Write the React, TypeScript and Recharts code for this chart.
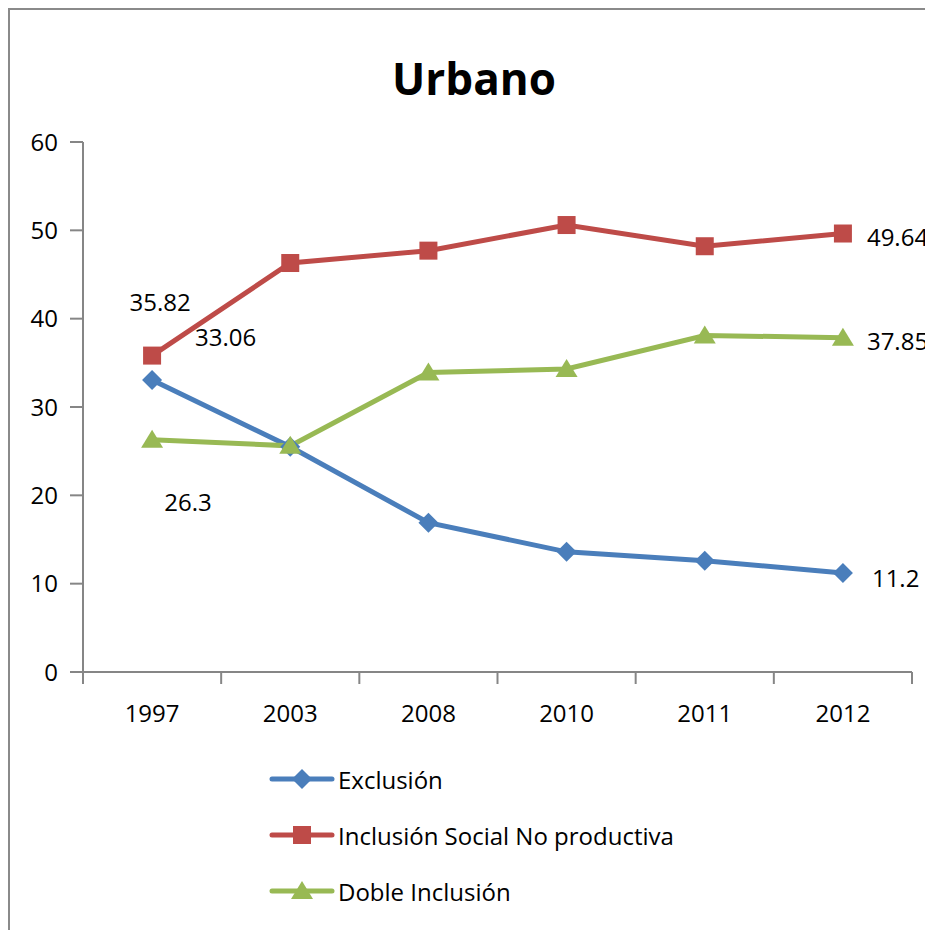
import React from 'react';
import { LineChart, Line, XAxis, YAxis, Legend, LabelList } from 'recharts';

const years = ['1997', '2003', '2008', '2010', '2011', '2012'];
const exclusion = [33.06, 25.5, 16.9, 13.6, 12.6, 11.2];
const inclusionSocial = [35.82, 46.3, 47.7, 50.6, 48.2, 49.64];
const dobleInclusion = [26.3, 25.6, 33.9, 34.3, 38.1, 37.85];
const yTicks = [0, 10, 20, 30, 40, 50, 60];

const data = years.map((year, i) => ({
  year,
  x: i + 0.5,
  exclusion: exclusion[i],
  inclusion: inclusionSocial[i],
  doble: dobleInclusion[i],
}));

const font = '"Open Sans", sans-serif';
const axisColor = '#868686';

const Marker = ({ cx, cy, shape, color }: any) => {
  if (shape === 'diamond') {
    return <path d={`M${cx},${cy - 10}L${cx + 10},${cy}L${cx},${cy + 10}L${cx - 10},${cy}Z`} fill={color} />;
  }
  if (shape === 'square') {
    return <rect x={cx - 9} y={cy - 9} width={18} height={18} fill={color} />;
  }
  return <path d={`M${cx},${cy - 10}L${cx + 11},${cy + 8}L${cx - 11},${cy + 8}Z`} fill={color} />;
};

// label offsets for first / last points, per series
const labelPos: Record<string, { first: [number, number, string]; last: [number, number, string] }> = {
  exclusion: { first: [43, -43, 'start'], last: [29, 4, 'start'] },
  inclusion: { first: [8, -54, 'middle'], last: [24, 3, 'start'] },
  doble: { first: [36, 62, 'middle'], last: [24, 3, 'start'] },
};

const makeLabel = (key: string) => (props: any) => {
  const { x, y, index, value } = props;
  if (index !== 0 && index !== years.length - 1) return null;
  const [dx, dy, anchor] = index === 0 ? labelPos[key].first : labelPos[key].last;
  return (
    <text
      key={`${key}-${index}`}
      x={x + dx}
      y={y + dy}
      textAnchor={anchor}
      dominantBaseline="central"
      fontSize={24}
      fontFamily={font}
      fill="#000"
    >
      {value}
    </text>
  );
};

const series = [
  { key: 'exclusion', name: 'Exclusión', color: '#4A7EBB', shape: 'diamond' },
  { key: 'inclusion', name: 'Inclusión Social No productiva', color: '#BE4B48', shape: 'square' },
  { key: 'doble', name: 'Doble Inclusión', color: '#98B954', shape: 'triangle' },
];

const LegendContent = (props: any) => {
  const payload = props.payload || [];
  const ordered = series
    .map((s) => ({ s, entry: payload.find((e: any) => e.value === s.name) }))
    .filter((d) => d.entry);
  return (
    <div style={{ height: 170 }}>
      {ordered.map(({ s, entry }) => (
        <div key={entry.value} style={{ display: 'flex', alignItems: 'center', height: 56 }}>
          <svg width={68} height={24}>
            <line x1={4} y1={12} x2={64} y2={12} stroke={entry.color} strokeWidth={5} strokeLinecap="round" />
            <Marker cx={34} cy={12} shape={s.shape} color={entry.color} />
          </svg>
          <span style={{ fontFamily: font, fontSize: 24, color: '#000', marginLeft: 2 }}>{entry.value}</span>
        </div>
      ))}
    </div>
  );
};

export default function App() {
  return (
    <div
      style={{
        position: 'relative',
        width: 925,
        height: 922,
        borderLeft: '2px solid #8a8a8a',
        borderTop: '2px solid #8a8a8a',
        background: '#fff',
      }}
    >
      <div
        style={{
          position: 'absolute',
          top: 38,
          left: 0,
          width: 928,
          textAlign: 'center',
          fontFamily: font,
          fontWeight: 700,
          fontSize: 44,
          color: '#000',
        }}
      >
        Urbano
      </div>
      <LineChart width={923} height={920} data={data} margin={{ top: 132, right: 21, left: 0, bottom: 0 }}>
        <YAxis
          domain={[0, 60]}
          ticks={yTicks}
          width={73}
          tickSize={13}
          tickMargin={12}
          axisLine={{ stroke: axisColor, strokeWidth: 2 }}
          tickLine={{ stroke: axisColor, strokeWidth: 2 }}
          tick={{ fontSize: 24, fontFamily: font, fill: '#000' }}
        />
        <XAxis
          xAxisId="a"
          type="number"
          dataKey="x"
          domain={[0, 6]}
          ticks={[0, 1, 2, 3, 4, 5, 6]}
          allowDataOverflow
          height={14}
          tickSize={12}
          tickFormatter={() => ''}
          axisLine={{ stroke: axisColor, strokeWidth: 2 }}
          tickLine={{ stroke: axisColor, strokeWidth: 2 }}
        />
        <XAxis
          xAxisId="b"
          type="number"
          dataKey="x"
          domain={[0, 6]}
          ticks={data.map((d) => d.x)}
          allowDataOverflow
          height={74}
          axisLine={false}
          tickLine={false}
          tickMargin={13}
          tickFormatter={(v: number) => years[Math.floor(v)]}
          tick={{ fontSize: 24, fontFamily: font, fill: '#000' }}
        />
        <Legend
          verticalAlign="bottom"
          content={<LegendContent />}
          wrapperStyle={{ position: 'absolute', top: 741, left: 258, width: 500, height: 170 }}
        />
        {series.map((s) => (
          <Line
            key={s.key}
            xAxisId="a"
            type="linear"
            dataKey={s.key}
            name={s.name}
            stroke={s.color}
            strokeWidth={5}
            isAnimationActive={false}
            dot={(p: any) => <Marker key={`${s.key}-dot-${p.index}`} cx={p.cx} cy={p.cy} shape={s.shape} color={s.color} />}
            activeDot={false}
          >
            <LabelList dataKey={s.key} content={makeLabel(s.key)} />
          </Line>
        ))}
      </LineChart>
    </div>
  );
}
